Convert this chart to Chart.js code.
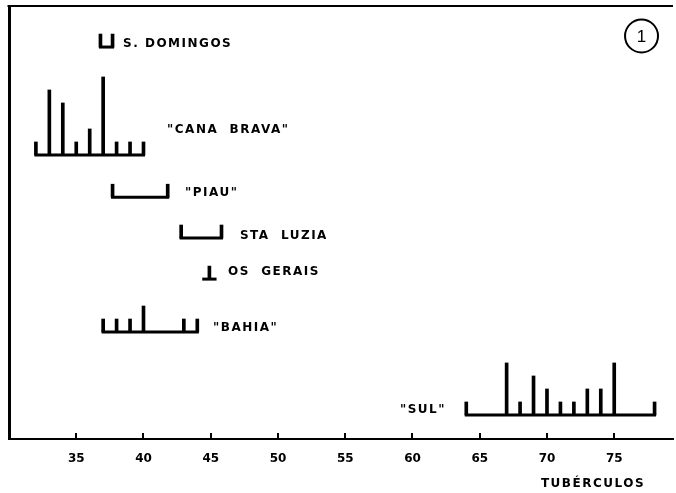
<!DOCTYPE html>
<html><head><meta charset="utf-8">
<script src="https://cdn.jsdelivr.net/npm/chart.js@4/dist/chart.umd.min.js"></script>
<style>html,body{margin:0;padding:0;background:#fff}</style>
</head><body>
<canvas id="c" width="676" height="493"></canvas>
<script>
// ---- data ----
const TICKS = [35, 40, 45, 50, 55, 60, 65, 70, 75];
const X_MIN = 30, X_MAX = 79.37;
const AXIS_TITLE = 'TUBÉRCULOS';
const FIG_NUMBER = '1';

const ROW_NAMES = ['S. DOMINGOS', '"CANA  BRAVA"', '"PIAU"', 'STA  LUZIA', 'OS  GERAIS', '"BAHIA"', '"SUL"'];

const sDomingosX = [36.8, 37.7];           const sDomingosN = [1, 1];
const canaBravaX = [32, 33, 34, 35, 36, 37, 38, 39, 40];
const canaBravaN = [1, 5, 4, 1, 2, 6, 1, 1, 1];
const piauX = [37.7, 41.8];                const piauN = [1, 1];
const staLuziaX = [42.8, 45.8];            const staLuziaN = [1, 1];
const osGeraisX = [44.9];                  const osGeraisN = [1];
const bahiaX = [37, 38, 39, 40, 43, 44];   const bahiaN = [1, 1, 1, 2, 1, 1];
const sulX = [64, 67, 68, 69, 70, 71, 72, 73, 74, 75, 78];
const sulN = [1, 4, 1, 3, 2, 1, 1, 2, 2, 4, 1];

// ---- layout (row baselines and label anchors, in axis units) ----
const ROW_BASE = [30.15, 21.85, 18.6, 15.46, 12.3, 8.23, 1.85];
const LABEL_X = [38.48, 41.75, 43.09, 47.17, 46.28, 45.17, 59.07];
const LABEL_Y = [30.38, 23.77, 18.92, 15.65, 12.85, 8.54, 2.23];
const Y_MAX = 433 / 13;

const ROWS_X = [sDomingosX, canaBravaX, piauX, staLuziaX, osGeraisX, bahiaX, sulX];
const ROWS_N = [sDomingosN, canaBravaN, piauN, staLuziaN, osGeraisN, bahiaN, sulN];

const barData = [];
ROWS_X.forEach((xs, r) => xs.forEach((v, i) => {
  barData.push({ x: v, y: [ROW_BASE[r], ROW_BASE[r] + ROWS_N[r][i]] });
}));

const baseSets = ROWS_X.map((xs, r) => {
  let lo = Math.min(...xs), hi = Math.max(...xs);
  if (lo === hi) { lo -= 0.42; hi += 0.42; }
  return {
    type: 'line',
    data: [{ x: lo, y: ROW_BASE[r] }, { x: hi, y: ROW_BASE[r] }],
    borderColor: '#000', borderWidth: 3, borderCapStyle: 'square',
    pointRadius: 0, fill: false, tension: 0
  };
});

const FONT = '"DejaVu Sans", "Liberation Sans", sans-serif';

const decor = {
  id: 'decor',
  afterDatasetsDraw(chart) {
    const { ctx, chartArea: a, scales: { x, y } } = chart;
    ctx.save();
    ctx.strokeStyle = '#000';
    ctx.fillStyle = '#000';
    // top frame line
    ctx.lineWidth = 2;
    ctx.beginPath(); ctx.moveTo(a.left - 1.5, a.top); ctx.lineTo(a.right, a.top); ctx.stroke();
    // inward tick marks
    TICKS.forEach(v => {
      const px = Math.round(x.getPixelForValue(v));
      ctx.beginPath(); ctx.moveTo(px, a.bottom); ctx.lineTo(px, a.bottom - 6); ctx.stroke();
    });
    // row labels
    ctx.font = 'bold 12px ' + FONT;
    if ('letterSpacing' in ctx) ctx.letterSpacing = '1.5px';
    ctx.textBaseline = 'middle';
    ctx.textAlign = 'left';
    ROW_NAMES.forEach((n, i) => ctx.fillText(n, x.getPixelForValue(LABEL_X[i]), y.getPixelForValue(LABEL_Y[i])));
    // axis title
    ctx.textAlign = 'right';
    ctx.fillText(AXIS_TITLE, x.getPixelForValue(77.29), a.bottom + 45);
    // figure number in circle
    const cx = x.getPixelForValue(77.03), cy = y.getPixelForValue(31.0);
    ctx.lineWidth = 2;
    ctx.beginPath(); ctx.arc(cx, cy, 16.5, 0, Math.PI * 2); ctx.stroke();
    if ('letterSpacing' in ctx) ctx.letterSpacing = '0px';
    ctx.font = '17px "Liberation Sans", sans-serif';
    ctx.textAlign = 'center';
    ctx.fillText(FIG_NUMBER, cx, cy + 1);
    ctx.restore();
  }
};

new Chart(document.getElementById('c'), {
  type: 'bar',
  data: {
    datasets: [
      { type: 'bar', data: barData, backgroundColor: '#000', borderWidth: 0,
        barThickness: 3, grouped: false },
      ...baseSets
    ]
  },
  options: {
    responsive: false,
    animation: false,
    devicePixelRatio: 1,
    layout: { padding: { left: 9, top: 6, right: 3, bottom: 0 } },
    plugins: { legend: { display: false }, tooltip: { enabled: false } },
    scales: {
      x: {
        type: 'linear', min: X_MIN, max: X_MAX, offset: false,
        afterBuildTicks: s => { s.ticks = TICKS.map(v => ({ value: v })); },
        afterFit: s => { s.height = 54; },
        grid: { display: false, drawTicks: false },
        border: { display: true, color: '#000', width: 2 },
        ticks: { color: '#000', font: { family: FONT, size: 12, weight: 'bold' }, padding: 13,
                 maxRotation: 0, autoSkip: false }
      },
      y: {
        type: 'linear', min: 0, max: Y_MAX,
        afterFit: s => { s.width = 0; },
        grid: { display: false, drawTicks: false },
        border: { display: true, color: '#000', width: 3 },
        ticks: { display: false }
      }
    }
  },
  plugins: [decor]
});
</script>
</body></html>
